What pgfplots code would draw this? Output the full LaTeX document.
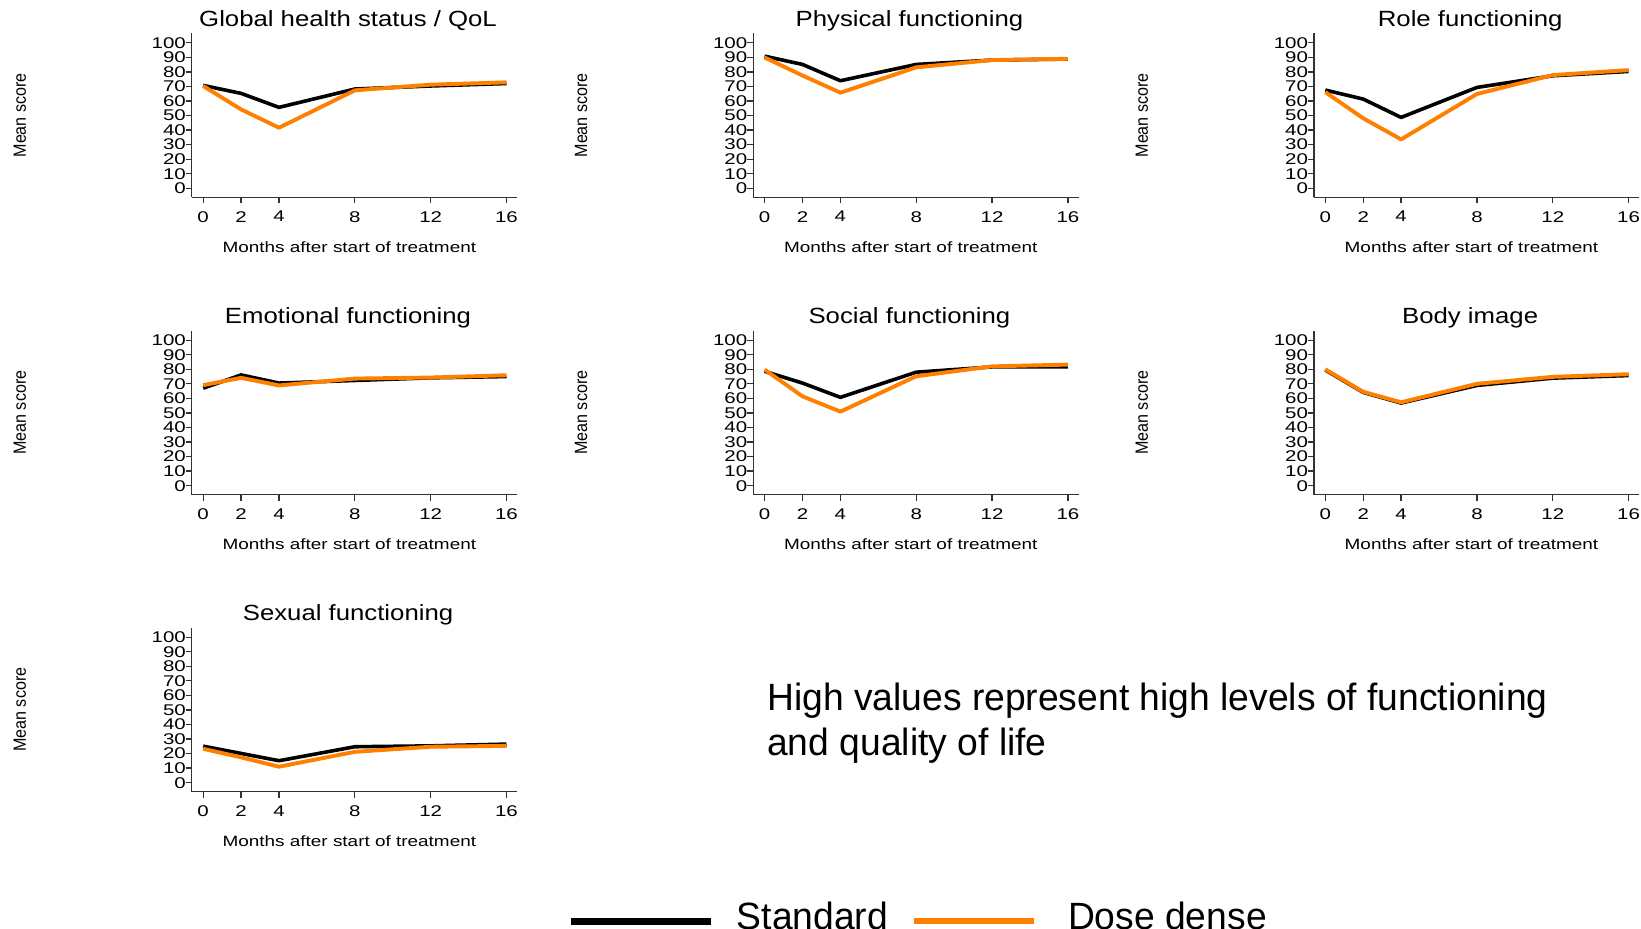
\documentclass[border=0pt]{standalone}
\usepackage{fontspec}
\usepackage{pgfplots}
\usepackage{pgfplotstable}
\pgfplotsset{compat=1.18}
\setmainfont{Liberation Sans}
\newfontfamily\titlefont[FakeStretch=1.17]{Liberation Sans}
\newfontfamily\tickfont[FakeStretch=1.32]{Liberation Sans}
\newfontfamily\xlabfont[FakeStretch=1.27]{Liberation Sans}
\newfontfamily\ylabfont[FakeStretch=0.91]{Liberation Sans}
\newfontfamily\annfont[FakeStretch=0.98]{Liberation Sans}
\definecolor{dd}{RGB}{255,128,0}
\definecolor{axc}{RGB}{50,50,50}

\pgfplotstableread{
m std dd
0 70.7 70.3
2 65.2 54.2
4 55.6 41.6
8 68.2 67.3
12 70.3 71.2
16 72.0 72.8
}\tglobal
\pgfplotstableread{
m std dd
0 90.8 89.9
2 85.1 77.5
4 73.9 65.7
8 85.1 83.1
12 88.1 88.1
16 88.8 89.0
}\tphys
\pgfplotstableread{
m std dd
0 67.5 66.1
2 61.3 48.1
4 48.7 33.6
8 69.3 64.8
12 77.3 77.8
16 80.3 81.2
}\trole
\pgfplotstableread{
m std dd
0 67.0 69.1
2 76.1 74.1
4 70.5 68.9
8 72.3 73.6
12 74.1 74.3
16 75.0 75.9
}\temo
\pgfplotstableread{
m std dd
0 78.6 79.8
2 70.5 61.4
4 60.7 50.9
8 78.0 75.2
12 81.6 82.0
16 81.6 83.2
}\tsoc
\pgfplotstableread{
m std dd
0 79.5 80.0
2 64.1 64.5
4 56.8 57.3
8 68.9 70.0
12 73.9 74.8
16 75.7 76.6
}\tbody
\pgfplotstableread{
m std dd
0 25.1 23.3
2 20.1 17.4
4 15.1 11.0
8 24.7 21.2
12 25.3 24.7
16 26.5 25.3
}\tsex

\pgfplotsset{
  panel/.style={
    scale only axis, width=325.5bp, height=164bp,
    xmin=-0.6, xmax=16.57, ymin=-6.2, ymax=106.5,
    axis lines=left,
    axis line style={-, draw=axc, line width=1.3bp},
    xtick={0,2,4,8,12,16}, ytick={0,10,20,30,40,50,60,70,80,90,100},
    tick align=outside, major tick length=5.8bp,
    tick style={draw=axc, line width=1.3bp},
    /pgf/number format/assume math mode=true,
    ticklabel style={font=\tickfont\fontsize{15.5bp}{15.5bp}\selectfont},
    yticklabel style={inner sep=0pt},
    xticklabel style={inner sep=0pt, yshift=-8bp},
    xlabel={Months after start of treatment},
    ylabel={Mean score},
    every axis x label/.style={at={(axis description cs:0.484,0)}, anchor=base, yshift=-55bp,
      font=\xlabfont\fontsize{14.9bp}{16bp}\selectfont},
    every axis y label/.style={at={(axis description cs:0,0.5)}, xshift=-166bp, rotate=90, anchor=base,
      font=\ylabfont\fontsize{17.7bp}{18bp}\selectfont},
    every axis title/.style={at={(axis description cs:0.48,1)}, anchor=base, yshift=7.3bp,
      font=\titlefont\fontsize{22bp}{23bp}\selectfont},
  },
  stdline/.style={draw=black, line width=3.6bp, line join=round, no marks},
  ddline/.style={draw=dd, line width=3.9bp, line join=round, no marks},
}

\begin{document}
\begin{tikzpicture}
\useasboundingbox (0,0) rectangle (1641bp,-929bp);

% Row 1
\begin{axis}[panel, at={(191.8bp,-197.3bp)}, anchor=south west, title={Global health status / QoL}]
\addplot[stdline] table[x=m, y=std] {\tglobal};
\addplot[ddline] table[x=m, y=dd] {\tglobal};
\end{axis}
\begin{axis}[panel, at={(753.2bp,-197.3bp)}, anchor=south west, title={Physical functioning}]
\addplot[stdline] table[x=m, y=std] {\tphys};
\addplot[ddline] table[x=m, y=dd] {\tphys};
\end{axis}
\begin{axis}[panel, at={(1313.9bp,-197.3bp)}, anchor=south west, title={Role functioning}]
\addplot[stdline] table[x=m, y=std] {\trole};
\addplot[ddline] table[x=m, y=dd] {\trole};
\end{axis}

% Row 2
\begin{axis}[panel, at={(191.8bp,-494.7bp)}, anchor=south west, title={Emotional functioning}]
\addplot[stdline] table[x=m, y=std] {\temo};
\addplot[ddline] table[x=m, y=dd] {\temo};
\end{axis}
\begin{axis}[panel, at={(753.2bp,-494.7bp)}, anchor=south west, title={Social functioning}]
\addplot[stdline] table[x=m, y=std] {\tsoc};
\addplot[ddline] table[x=m, y=dd] {\tsoc};
\end{axis}
\begin{axis}[panel, at={(1313.9bp,-494.7bp)}, anchor=south west, title={Body image}]
\addplot[stdline] table[x=m, y=std] {\tbody};
\addplot[ddline] table[x=m, y=dd] {\tbody};
\end{axis}

% Row 3
\begin{axis}[panel, at={(191.8bp,-791.7bp)}, anchor=south west, title={Sexual functioning}]
\addplot[stdline] table[x=m, y=std] {\tsex};
\addplot[ddline] table[x=m, y=dd] {\tsex};
\end{axis}

% Overlay: note and legend
\begin{axis}[at={(0bp,-929bp)}, anchor=south west, scale only axis,
  width=1641bp, height=929bp, xmin=0, xmax=1641, ymin=0, ymax=929,
  hide axis, clip=false,
  legend columns=2,
  legend style={at={(axis cs:568,-2)}, anchor=south west, draw=none, fill=none,
    inner sep=0pt, outer sep=0pt,
    nodes={inner sep=0pt, outer sep=0pt},
    font=\annfont\fontsize{38bp}{45bp}\selectfont,
    /tikz/every odd column/.append style={column sep=22bp},
    /tikz/every even column/.append style={column sep=22.8bp}},
]
\addlegendimage{legend image code/.code={\draw[black, line width=6.8bp] (0bp,-4.7bp) -- (140bp,-4.7bp);}}
\addlegendentry{Standard}
\addlegendimage{legend image code/.code={\draw[dd, line width=6.5bp] (0bp,-4.7bp) -- (120bp,-4.7bp);}}
\addlegendentry{\hspace*{8.8bp}Dose dense}
\node[anchor=north west, align=left, inner sep=0pt,
  font=\annfont\fontsize{38bp}{45bp}\selectfont] at (axis cs:767,246)
  {High values represent high levels of functioning\\and quality of life};
\end{axis}
\end{tikzpicture}
\end{document}
